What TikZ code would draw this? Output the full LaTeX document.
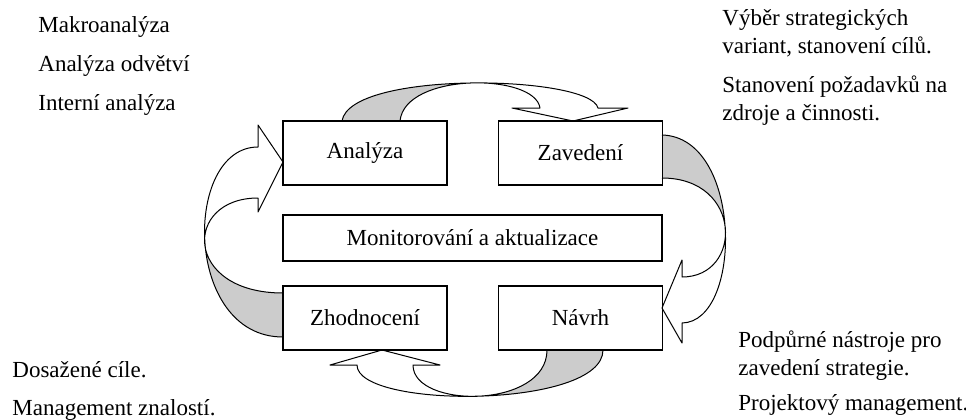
\documentclass[tikz,border=0pt]{standalone}
\usepackage{fontspec}
\setmainfont{Liberation Serif}
\usetikzlibrary{positioning}

\begin{document}
\begin{tikzpicture}[
    x=0.5pt, y=-0.5pt,
    node distance=82.5pt and 107.75pt,
    on grid,
    font=\fontsize{11.5}{14}\selectfont,
    box/.style={
        draw,
        line width=0.6pt,
        minimum width=82pt,
        minimum height=32pt,
        inner sep=0pt
    },
    note/.style={anchor=base west, inner sep=0pt},
    band/.style={draw, line width=0.5pt, line join=round},
    back/.style={fill=gray!40}]

  \useasboundingbox (0,0) rectangle (966,419);

  % zakruhene sipky
  \begin{scope}
    \clip (0,0) rectangle (470,419);
    \fill[back] (342,121) .. controls (350,70) and (590,75) .. (598,108)
      -- (540,108) .. controls (535,73) and (405,72) .. (400,121) -- cycle;
  \end{scope}
  \draw[band] (342,121) .. controls (350,70) and (590,75) .. (598,108)
    -- (628,108) -- (573,121) -- (512,108) -- (540,108)
    .. controls (535,73) and (405,72) .. (400,121);

  \begin{scope}
    \clip (600,0) rectangle (800,228);
    \fill[back] (662,135) .. controls (743,137) and (743,322) .. (682,323)
      -- (682,277) .. controls (743,277) and (743,178) .. (662,178) -- cycle;
  \end{scope}
  \draw[band] (662,135) .. controls (743,137) and (743,322) .. (682,323)
    -- (682,343) -- (662,308) -- (682,260) -- (682,277)
    .. controls (743,277) and (743,178) .. (662,178);

  \begin{scope}
    \clip (480,350) rectangle (640,419);
    \fill[back] (603,350) .. controls (603,409) and (357,409) .. (357,365)
      -- (413,365) .. controls (413,409) and (547,409) .. (547,350) -- cycle;
  \end{scope}
  \draw[band] (603,350) .. controls (603,409) and (357,409) .. (357,365)
    -- (330,365) -- (382,350) -- (440,365) -- (413,365)
    .. controls (413,409) and (547,409) .. (547,350);

  \begin{scope}
    \clip (150,241) rectangle (283,400);
    \fill[back] (283,337) .. controls (183,337) and (183,147) .. (258,147)
      -- (258,198) .. controls (183,198) and (183,293) .. (283,293) -- cycle;
  \end{scope}
  \draw[band] (283,337) .. controls (183,337) and (183,147) .. (258,147)
    -- (258,125) -- (283,162) -- (258,212) -- (258,198)
    .. controls (183,198) and (183,293) .. (283,293);

  % bloky
  \node[box] (ana) at (365,153) {Analýza};
  \node[box, right=of ana] (zav) {Zavedení};
  \node[box, below=of ana] (zho) {Zhodnocení};
  \node[box, right=of zho] (nav) {Návrh};
  \node[box, minimum width=189.5pt, minimum height=23pt] (mon) at (472.5,238)
    {Monitorování a aktualizace};

  % popisky
  \node[note] (makro) at (38,32) {Makroanalýza};
  \node[note] (odvetvi) at (38,71) {Analýza odvětví};
  \node[note] (interni) at (38,110) {Interní analýza};

  \node[note] (vyber) at (722,25) {Výběr strategických};
  \node[note] (cile) at (722,53) {variant, stanovení cílů.};
  \node[note] (pozadavky) at (722,92) {Stanovení požadavků na};
  \node[note] (zdroje) at (722,120) {zdroje a činnosti.};

  \node[note] (nastroje) at (738,347) {Podpůrné nástroje pro};
  \node[note] (strategie) at (738,375) {zavedení strategie.};
  \node[note] (projekt) at (738,410) {Projektový management.};

  \node[note] (dosazene) at (12,377) {Dosažené cíle.};
  \node[note] (znalosti) at (12,415) {Management znalostí.};
\end{tikzpicture}
\end{document}
